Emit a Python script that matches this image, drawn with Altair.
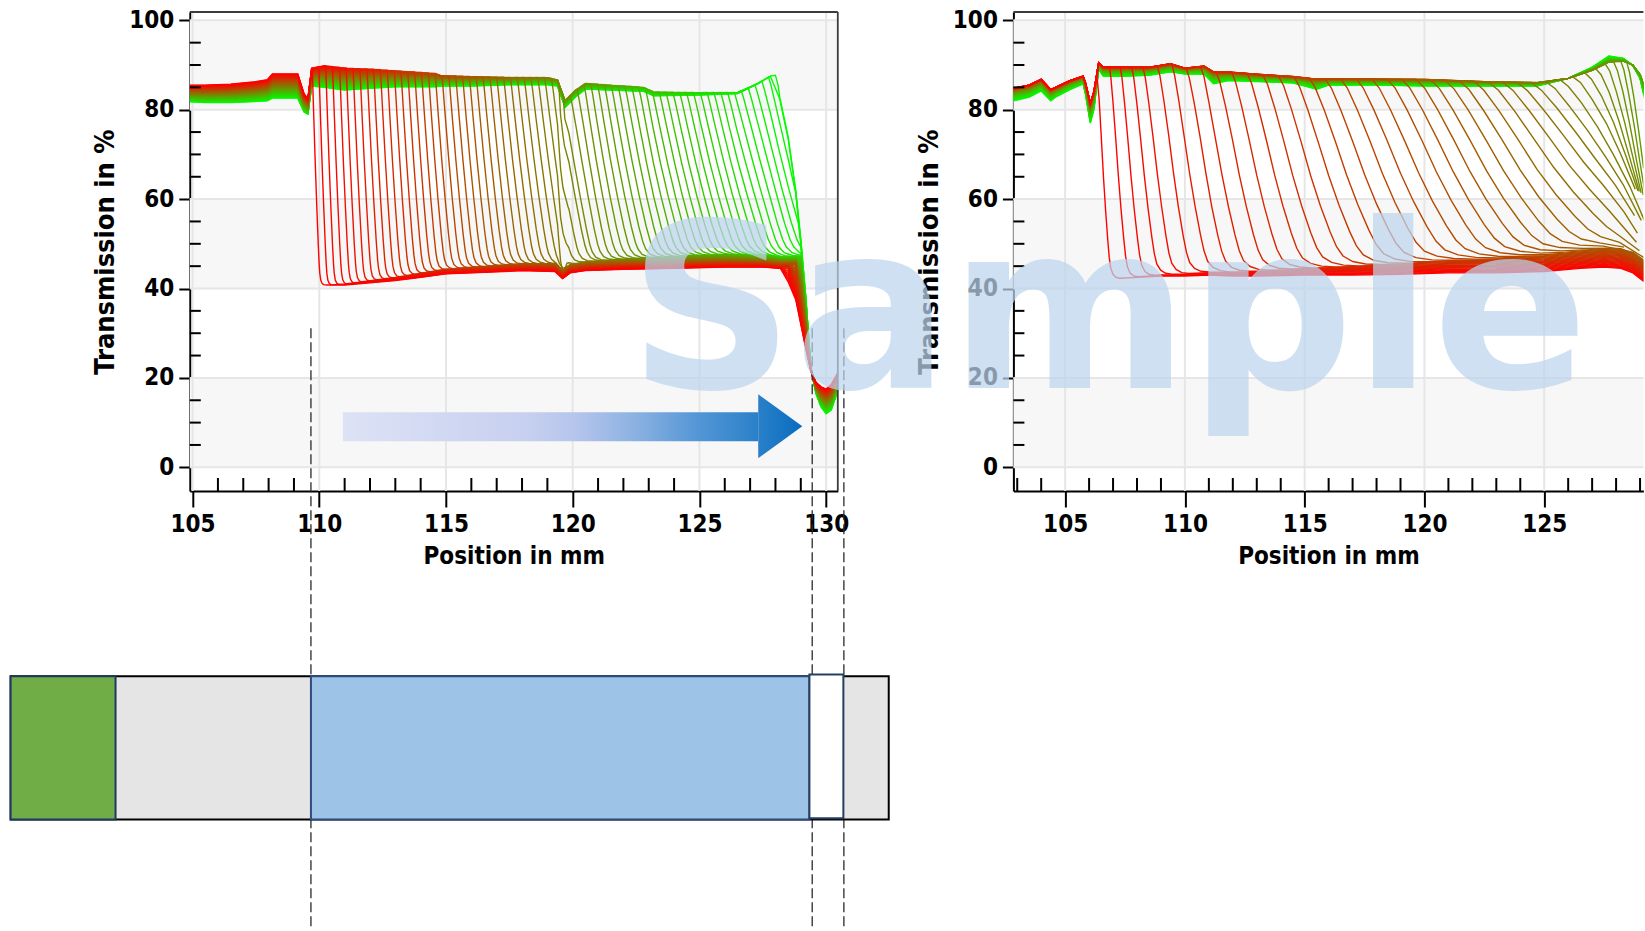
import altair as alt
import numpy as np
import pandas as pd

FONT = "DejaVu Sans Condensed, DejaVu Sans"

# ---------------- axes / frame values ----------------
L_XDOM = [104.89, 130.46]
R_XDOM = [102.84, 129.14]
YDOM = [-5.3, 101.86]
L_MAJOR = [105, 110, 115, 120, 125, 130]
R_MAJOR = [105, 110, 115, 120, 125]
L_GRID = [105, 110, 115, 120, 125, 130]
R_GRID = [105, 110, 115, 120, 125]
L_MINOR = [106, 107, 108, 109, 111, 112, 113, 114, 116, 117, 118, 119,
           121, 122, 123, 124, 126, 127, 128, 129]
R_MINOR = [103, 104, 106, 107, 108, 109, 111, 112, 113, 114, 116, 117, 118, 119,
           121, 122, 123, 124, 126, 127, 128, 129]
Y_MAJOR = [0, 20, 40, 60, 80, 100]
Y_MINOR = [5, 10, 15, 25, 30, 35, 45, 50, 55, 65, 70, 75, 85, 90, 95]
BAND_LO = [0, 40, 80]
BAND_HI = [20, 60, 100]

# ---------------- left chart curves ----------------
L_STARTS = [109.72, 109.98, 110.25, 110.52, 110.80, 111.06, 111.33, 111.60, 111.88, 112.14,
            112.41, 112.68, 112.96, 113.22, 113.49, 113.76, 114.03, 114.30, 114.57, 114.84,
            115.11, 115.38, 115.65, 115.92, 116.19, 116.46, 116.73, 117.00, 117.27, 117.54,
            117.81, 118.08, 118.35, 118.62, 118.89, 119.16, 119.45, 119.62, 119.90, 120.17,
            120.44, 120.71, 120.98, 121.25, 121.52, 121.79, 122.06, 122.33, 122.60, 122.87,
            123.14, 123.41, 123.68, 123.95, 124.22, 124.49, 124.76, 125.03, 125.30, 125.57,
            125.84, 126.11, 126.38, 126.65, 126.92, 127.19, 127.46, 127.73, 128.00, 128.27]
L_WIDTHS = [0.30, 0.32, 0.34, 0.36, 0.38, 0.40, 0.42, 0.44, 0.46, 0.48,
            0.50, 0.52, 0.54, 0.56, 0.58, 0.60, 0.62, 0.64, 0.66, 0.68,
            0.70, 0.72, 0.74, 0.76, 0.78, 0.80, 0.82, 0.85, 0.88, 0.91,
            0.94, 0.97, 1.00, 1.03, 1.06, 1.09, 1.12, 1.15, 1.18, 1.21,
            1.24, 1.27, 1.30, 1.33, 1.36, 1.39, 1.42, 1.45, 1.48, 1.50,
            1.52, 1.54, 1.56, 1.58, 1.60, 1.62, 1.64, 1.66, 1.68, 1.70,
            1.72, 1.74, 1.76, 1.78, 1.80, 1.80, 1.80, 1.80, 1.80, 1.80]
X_TOP_L = [104.89, 105.5, 106.5, 107.4, 107.95, 108.15, 109.15, 109.4, 109.55, 109.7,
           110.2, 111.0, 112.0, 113.0, 114.6, 114.8, 116.0, 117.5, 119.0, 119.4,
           119.7, 120.1, 120.5, 121.5, 122.8, 123.2, 125.0, 126.5, 127.3, 127.8, 128.3]
TOP_L_RED = [85.5, 85.5, 85.7, 86.2, 86.7, 88.0, 88.0, 83.5, 82.5, 89.3,
             90.0, 89.7, 89.7, 89.5, 89.2, 88.5, 88.5, 88.4, 88.8, 88.2,
             84.0, 86.3, 87.7, 87.4, 87.2, 86.3, 86.3, 86.5, 87.4, 88.2, 88.7]
TOP_L_GREEN = [81.8, 81.6, 81.6, 81.8, 82.0, 82.6, 82.6, 79.5, 79.0, 85.3,
               85.0, 84.4, 84.8, 85.1, 85.1, 85.3, 85.3, 85.6, 85.6, 85.3,
               80.5, 82.8, 84.6, 84.4, 84.1, 83.1, 83.3, 83.6, 85.8, 87.5, 88.0]
X_LOW_L = [109.9, 110.3, 111.0, 112.0, 113.0, 114.0, 115.0, 116.5, 118.0,
           119.3, 119.6, 119.9, 120.5, 122.0, 124.0, 126.0, 127.5, 128.2]
LOW_L_RED = [41.0, 40.8, 40.8, 41.3, 41.8, 42.5, 43.3, 43.6, 44.0,
             43.8, 42.2, 43.5, 44.0, 44.3, 44.5, 44.8, 44.8, 44.5]
LOW_L_LATE = [45.5, 45.5, 46.0, 46.5, 47.0, 47.5, 47.8, 48.0, 48.2,
              48.0, 46.5, 47.5, 48.0, 48.3, 48.5, 48.5, 48.0, 47.5]
X_TAIL_L = [128.2, 128.5, 128.8, 129.0, 129.2, 129.4, 129.6, 129.8, 130.0, 130.2, 130.45]
TAIL_L_RED = [44.5, 41.5, 37.5, 32.0, 26.5, 21.5, 19.0, 18.0, 17.5, 18.5, 21.0]
TAIL_L_GREEN = [82.0, 74.0, 62.0, 51.0, 38.0, 22.0, 16.5, 13.5, 12.0, 12.8, 17.0]
DROP_U_L = [0.0, 0.06, 0.2, 0.4, 0.6, 0.8, 0.92, 1.0, 1.12, 1.3, 1.5]
DROP_F_L = [0.0, 0.06, 0.22, 0.44, 0.64, 0.82, 0.91, 0.95, 0.98, 0.995, 1.0]
# glitch of the measurement near 119.6 mm, seen as a kink in every falling curve
KINK_X = [119.40, 119.52, 119.62, 119.85]
KINK_D = [0.0, 3.5, 3.0, 0.0]

# ---------------- right chart curves ----------------
R_STARTS = [106.30, 106.85, 107.30, 107.78, 108.25, 108.85, 109.45, 110.05, 110.65, 111.30,
            111.95, 112.60, 113.25, 113.90, 114.55, 115.20, 115.85, 116.50, 117.15, 117.80,
            118.45, 119.05, 119.65, 120.25, 120.85, 121.45, 122.05, 122.65, 123.25, 123.85,
            124.45, 125.05, 125.65, 126.20, 126.70, 127.15, 127.55, 127.90, 128.20, 128.45,
            129.20, 129.30, 129.40, 129.50, 129.60, 129.70, 129.80, 129.90, 130.00, 130.10,
            130.20, 130.30, 130.40, 130.50, 130.60, 130.70, 130.80, 130.90, 131.00, 131.10,
            131.20, 131.30, 131.40, 131.50, 131.60, 131.70]
R_WIDTHS = [0.60, 0.75, 0.90, 1.05, 1.20, 1.35, 1.50, 1.65, 1.80, 1.95,
            2.10, 2.30, 2.50, 2.70, 2.90, 3.10, 3.30, 3.50, 3.70, 3.90,
            4.10, 4.30, 4.50, 4.70, 4.90, 5.10, 5.30, 5.50, 5.60, 5.60,
            5.40, 5.00, 4.50, 4.00, 3.40, 2.80, 2.30, 1.90, 1.60, 1.40,
            1.30, 1.30, 1.30, 1.30, 1.30, 1.30, 1.30, 1.30, 1.30, 1.30,
            1.30, 1.30, 1.30, 1.30, 1.30, 1.30, 1.30, 1.30, 1.30, 1.30,
            1.30, 1.30, 1.30, 1.30, 1.30, 1.30]
X_TOP_R = [102.84, 103.5, 104.0, 104.4, 104.6, 105.2, 105.75, 105.85, 106.05, 106.2,
           106.4, 106.6, 107.5, 108.5, 109.4, 110.0, 110.8, 111.2, 111.8, 113.0,
           114.5, 115.5, 116.0, 118.0, 120.0, 121.0, 122.5, 124.7, 126.0, 127.0,
           127.7, 128.3, 128.7, 129.0, 129.3]
TOP_R_RED = [84.8, 85.5, 86.8, 84.5, 85.0, 86.5, 87.5, 86.0, 81.5, 84.0,
             90.5, 89.5, 89.5, 89.5, 90.3, 89.3, 89.8, 88.5, 88.5, 88.0,
             87.5, 87.0, 87.0, 87.0, 87.0, 86.8, 86.5, 86.3, 87.0, 88.5,
             90.0, 90.5, 90.0, 88.5, 86.0]
TOP_R_GREEN = [82.0, 82.8, 84.2, 82.0, 82.8, 84.5, 85.8, 83.5, 77.0, 80.0,
               89.0, 87.5, 87.5, 87.7, 88.5, 88.0, 88.0, 85.8, 86.5, 86.3,
               86.0, 84.6, 85.5, 85.5, 85.3, 85.3, 85.3, 85.3, 87.0, 89.5,
               92.0, 91.5, 89.9, 87.0, 80.0]
X_LOW_R = [106.9, 107.3, 108.0, 109.0, 110.0, 111.0, 112.0, 113.0, 115.0, 117.0,
           119.0, 121.0, 123.0, 125.0, 126.5, 127.5, 128.2, 128.7, 129.3]
LOW_R_RED = [42.3, 42.3, 42.5, 42.8, 42.8, 43.0, 42.8, 42.8, 43.0, 43.0,
             43.2, 43.5, 43.5, 43.8, 44.5, 44.8, 44.5, 43.5, 41.0]
LOW_R_LATE = [50.0, 50.0, 50.5, 51.0, 51.5, 52.0, 52.5, 53.0, 53.5, 54.0,
              54.5, 55.0, 55.5, 56.0, 56.5, 57.0, 57.0, 56.0, 54.0]
DROP_U_R = [0.0, 0.08, 0.2, 0.35, 0.5, 0.65, 0.8, 0.9, 1.0, 1.15, 1.35, 1.6]
DROP_F_R = [0.0, 0.05, 0.17, 0.34, 0.52, 0.68, 0.82, 0.9, 0.95, 0.98, 0.995, 1.0]

# ---------------- annotations ----------------
DASH_X = [109.67, 129.45, 130.70]
DASH_TOP = 31.1
DASH_BOTTOM = -103.3
ARROW_SHAFT = dict(x0=110.93, x1=127.32, y0=5.82, y1=12.31)
ARROW_HEAD_X = [127.32, 129.06]
ARROW_HEAD_TOP = [16.34, 9.18]
ARROW_HEAD_BOT = [2.02, 9.18]
BOX_X0 = [97.82, 97.82, 109.67, 129.34]
BOX_X1 = [132.47, 101.96, 129.34, 130.68]
BOX_Y0 = [-46.75, -46.75, -46.75, -46.37]
BOX_Y1 = [-78.8, -78.8, -78.8, -78.5]
BOX_FILL = ["#e5e5e5", "#70ad47", "#9dc3e6", "#ffffff"]
BOX_STROKE = ["#000000", "#1f3864", "#2f4b7c", "#243f60"]
WATERMARK = dict(x=106.81, y=17.68, text="Sample")


def build_curves(starts, widths, xt, top_a, top_b, xl, low_a, low_b, du, df,
                 xmax, xtail=None, tail_a=None, tail_b=None, top_exp=1.0,
                 kink_x=None, kink_d=None):
    rows = []
    n = len(starts)
    top_a, top_b = np.array(top_a), np.array(top_b)
    low_a, low_b = np.array(low_a), np.array(low_b)
    for i, (s, w) in enumerate(zip(starts, widths)):
        t = i / (n - 1)
        m = t ** top_exp
        top = (1 - m) * top_a + m * top_b
        low = (1 - t) * low_a + t * low_b
        xs = [x for x in xt if x < s] + [s + u * w for u in du] + \
             [x for x in xl if x > s + du[-1] * w]
        if kink_x is not None and s < kink_x[1] < s + du[-1] * w:
            xs += list(kink_x)
        if xtail is not None:
            xs += list(xtail)
        xs = np.array(sorted(set(round(x, 4) for x in xs if x <= xmax)))
        H = np.interp(xs, xt, top)
        L = np.interp(xs, xl, low)
        F = np.interp((xs - s) / w, du, df)
        vals = H - F * (H - L)
        if kink_x is not None:
            falling = (F > 0.02) & (F < 0.97)
            vals = vals - np.where(falling, np.interp(xs, kink_x, kink_d, left=0, right=0), 0)
        if xtail is not None:
            tail = (1 - t) * np.array(tail_a) + t * np.array(tail_b)
            tv = np.interp(xs, xtail, tail)
            mask = xs >= xtail[0]
            vals = np.where(mask, np.minimum(vals, tv), vals)
        # later (greener) curves get lower ids so that they are drawn first, red on top
        cid = f"{n - 1 - i:03d}"
        for x, v in zip(xs, vals):
            rows.append({"x": float(x), "T": float(v), "id": cid, "t": t})
    df_ = pd.DataFrame(rows)
    return df_.sort_values(["id", "x"]).reset_index(drop=True)


left_df = build_curves(L_STARTS, L_WIDTHS, X_TOP_L, TOP_L_RED, TOP_L_GREEN,
                       X_LOW_L, LOW_L_RED, LOW_L_LATE, DROP_U_L, DROP_F_L,
                       xmax=130.45, xtail=X_TAIL_L, tail_a=TAIL_L_RED, tail_b=TAIL_L_GREEN,
                       top_exp=1.0, kink_x=KINK_X, kink_d=KINK_D)
right_df = build_curves(R_STARTS, R_WIDTHS, X_TOP_R, TOP_R_RED, TOP_R_GREEN,
                        X_LOW_R, LOW_R_RED, LOW_R_LATE, DROP_U_R, DROP_F_R,
                        xmax=129.3, top_exp=2.0)

W_L, W_R, H = 648, 630, 479
yS = alt.Scale(domain=YDOM, nice=False, zero=False)
colorS = alt.Scale(domain=[0, 1], range=["#ff0000", "#00ff00"], interpolate="rgb")


def x_axis(values):
    return alt.Axis(values=values, format="d", title="Position in mm", grid=False,
                    domainColor="black", domainWidth=2, tickColor="black", tickWidth=2,
                    tickSize=16, labelFont=FONT, labelFontSize=24, labelFontWeight="bold",
                    labelColor="black", labelPadding=6, labelFlush=False, labelOverlap=False,
                    titleFont=FONT, titleFontSize=24, titleFontWeight="bold",
                    titleColor="black", titlePadding=8)


Y_AXIS = alt.Axis(values=Y_MAJOR, format="d", title="Transmission in %", grid=False,
                  domainColor="black", domainWidth=2, tickColor="black", tickWidth=2,
                  tickSize=11, labelFont=FONT, labelFontSize=24, labelFontWeight="bold",
                  labelColor="black", labelPadding=5, labelOverlap=False,
                  titleFont=FONT, titleFontSize=27, titleFontWeight="bold",
                  titleColor="black", titlePadding=9)


def panel(df, xdom, width, major, grid, minor, full_frame):
    xS = alt.Scale(domain=xdom, nice=False, zero=False)
    XA = x_axis(major)

    def X(f):
        return alt.X(f, scale=xS, axis=XA)

    def Y(f):
        return alt.Y(f, scale=yS, axis=Y_AXIS)

    bands = alt.Chart(pd.DataFrame({"lo": BAND_LO, "hi": BAND_HI})).mark_rect(
        fill="#f7f7f7").encode(y=Y("lo:Q"), y2="hi:Q", x=alt.value(0), x2=alt.value(width))
    vgrid = alt.Chart(pd.DataFrame({"v": grid})).mark_rule(
        color="#e6e6e6", strokeWidth=2).encode(x=X("v:Q"), y=alt.value(0), y2=alt.value(H))
    hgrid = alt.Chart(pd.DataFrame({"v": Y_MAJOR})).mark_rule(
        color="#e6e6e6", strokeWidth=2).encode(y=Y("v:Q"), x=alt.value(0), x2=alt.value(width))
    lines = alt.Chart(df).mark_line(strokeWidth=1.4, clip=True).encode(
        x=X("x:Q"), y=Y("T:Q"),
        color=alt.Color("t:Q", scale=colorS, legend=None),
        detail="id:N", order="x:Q")
    xminor = alt.Chart(pd.DataFrame({"v": minor})).mark_rule(
        color="black", strokeWidth=2).encode(x=X("v:Q"), y=alt.value(H - 13), y2=alt.value(H))
    yminor = alt.Chart(pd.DataFrame({"v": Y_MINOR})).mark_rule(
        color="black", strokeWidth=2).encode(y=Y("v:Q"), x=alt.value(0), x2=alt.value(11))
    top = alt.Chart(pd.DataFrame({"v": [0]})).mark_rule(
        color="#3c3c3c", strokeWidth=1.8).encode(
        y=alt.value(0), x=alt.value(0), x2=alt.value(width))
    layers = [bands, vgrid, hgrid, lines, xminor, yminor, top]
    if full_frame:
        right = alt.Chart(pd.DataFrame({"v": [0]})).mark_rule(
            color="#3c3c3c", strokeWidth=1.8).encode(
            x=alt.value(width), y=alt.value(0), y2=alt.value(H))
        layers.append(right)
    return layers, X, Y


l_layers, XL, YL = panel(left_df, L_XDOM, W_L, L_MAJOR, L_GRID, L_MINOR, True)
r_layers, XR, YR = panel(right_df, R_XDOM, W_R, R_MAJOR, R_GRID, R_MINOR, False)

# dashed guide lines
dashes = alt.Chart(pd.DataFrame({"x": DASH_X, "y0": [DASH_TOP] * 3, "y1": [DASH_BOTTOM] * 3})).mark_rule(
    color="#2a2a2a", strokeWidth=1.3, strokeDash=[10, 4]).encode(
    x=XL("x:Q"), y=YL("y0:Q"), y2="y1:Q")

shaft_grad = alt.Gradient(gradient="linear", x1=0, x2=1, y1=0, y2=0, stops=[
    alt.GradientStop(color="#dde2f5", offset=0),
    alt.GradientStop(color="#c6cfef", offset=0.45),
    alt.GradientStop(color="#b5c5ec", offset=0.56),
    alt.GradientStop(color="#8db2e2", offset=0.7),
    alt.GradientStop(color="#5597d6", offset=0.85),
    alt.GradientStop(color="#2a80c9", offset=1)])
head_grad = alt.Gradient(gradient="linear", x1=0, x2=1, y1=0, y2=0, stops=[
    alt.GradientStop(color="#2a80c9", offset=0),
    alt.GradientStop(color="#086cc0", offset=1)])
shaft = alt.Chart(pd.DataFrame([ARROW_SHAFT])).mark_rect(color=shaft_grad).encode(
    x=XL("x0:Q"), x2="x1:Q", y=YL("y0:Q"), y2="y1:Q")
head = alt.Chart(pd.DataFrame({"x": ARROW_HEAD_X, "a": ARROW_HEAD_TOP, "b": ARROW_HEAD_BOT})).mark_area(
    color=head_grad).encode(x=XL("x:Q"), y=YL("a:Q"), y2="b:Q")

boxes = alt.Chart(pd.DataFrame({"x0": BOX_X0, "x1": BOX_X1, "y0": BOX_Y0, "y1": BOX_Y1,
                                "f": BOX_FILL, "s": BOX_STROKE})).mark_rect(strokeWidth=2).encode(
    x=XL("x0:Q"), x2="x1:Q", y=YL("y0:Q"), y2="y1:Q",
    fill=alt.Fill("f:N", scale=None), stroke=alt.Stroke("s:N", scale=None))

left = alt.layer(*l_layers, dashes, shaft, head, boxes).properties(width=W_L, height=H)

watermark = alt.Chart(pd.DataFrame([WATERMARK])).mark_text(
    font="DejaVu Sans", fontWeight="bold", fontSize=230, color="#bcd5ee", opacity=0.72,
    align="center", baseline="alphabetic").encode(
    x=XR("x:Q"), y=YR("y:Q"), text="text:N")

right = alt.layer(*r_layers, watermark).properties(width=W_R, height=H)

chart = alt.hconcat(left, right, spacing=175.6, bounds="flush").properties(
    padding={"left": 8.8, "top": 8, "right": 0, "bottom": 0},
    background="white",
).configure_view(strokeWidth=0)

chart.save("out.html", embed_options={"renderer": "svg", "actions": False})
